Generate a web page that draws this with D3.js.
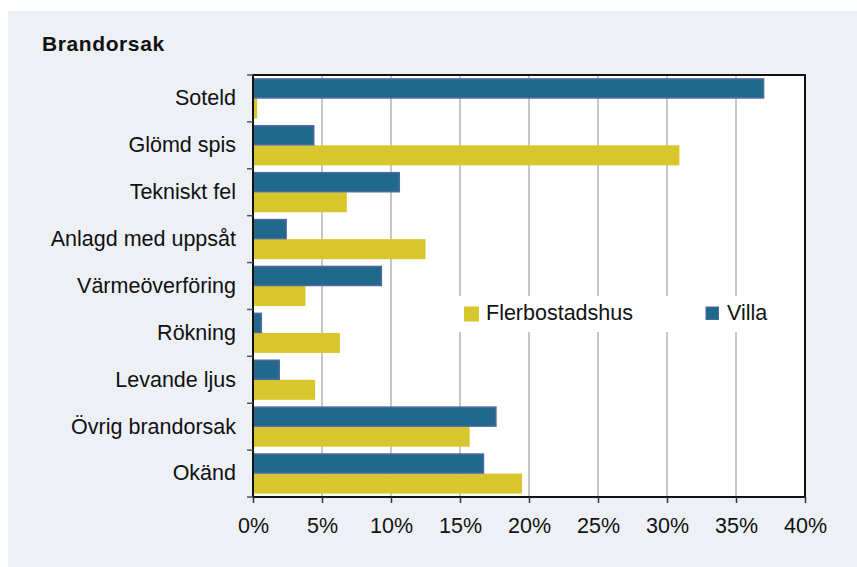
<!DOCTYPE html>
<html>
<head>
<meta charset="utf-8">
<script src="https://cdn.jsdelivr.net/npm/d3@7"></script>
<style>
  body { margin: 0; background: #fff; }
  svg { display: block; font-family: "Liberation Sans", Arial, sans-serif; }
</style>
</head>
<body>
<svg id="chart" width="857" height="567"></svg>
<script>
// data (percent)
const categories = ["Soteld", "Glömd spis", "Tekniskt fel", "Anlagd med uppsåt", "Värmeöverföring",
  "Rökning", "Levande ljus", "Övrig brandorsak", "Okänd"];
const series = ["Villa", "Flerbostadshus"];
const villa = [37.0, 4.4, 10.6, 2.4, 9.3, 0.6, 1.9, 17.6, 16.7];
const flerbostadshus = [0.3, 30.9, 6.8, 12.5, 3.8, 6.3, 4.5, 15.7, 19.5];
const xTicks = [0, 5, 10, 15, 20, 25, 30, 35, 40];

const colors = { "Villa": "#21698a", "Flerbostadshus": "#d8c62f" };
const fontFam = "'Liberation Sans', Arial, sans-serif";

let svg = d3.select("#chart");

// grey panel behind everything
svg.append("rect")
  .attr("x", 8).attr("y", 11)
  .attr("width", 849).attr("height", 556)
  .attr("fill", "#edf0f5");

svg.append("text")
  .attr("x", 42).attr("y", 51)
  .attr("font-size", 21).attr("font-weight", "bold")
  .attr("letter-spacing", 0.6)
  .attr("fill", "#111")
  .text("Brandorsak");

// plot area edges
const pLeft = 253, pRight = 805, pTop = 75, pBottom = 497;

let x = d3.scaleLinear().domain([0, 40]).range([pLeft, pRight]);
let y0 = d3.scaleBand().domain(categories).range([pTop, pBottom]).padding(0);
let y1 = d3.scaleBand().domain(series).range([0, y0.bandwidth()]).paddingInner(0).paddingOuter(0.17);

svg.append("rect")
  .attr("x", pLeft).attr("y", pTop)
  .attr("width", pRight - pLeft).attr("height", pBottom - pTop)
  .attr("fill", "#fff");

// gridlines
svg.append("g")
  .selectAll("line")
  .data(xTicks.slice(1, -1))
  .enter()
  .append("line")
  .attr("x1", (d) => x(d)).attr("x2", (d) => x(d))
  .attr("y1", pTop).attr("y2", pBottom)
  .attr("stroke", "#b3b3b3")
  .attr("stroke-width", 1.5);

// bars
let rows = categories.map((c, i) => ({ cat: c, Villa: villa[i], Flerbostadshus: flerbostadshus[i] }));

let groups = svg.append("g")
  .selectAll("g")
  .data(rows)
  .enter()
  .append("g")
  .attr("transform", (d) => `translate(0,${y0(d.cat)})`);

groups.append("rect")
  .attr("x", x(0))
  .attr("y", y1("Flerbostadshus"))
  .attr("width", (d) => x(d.Flerbostadshus) - x(0))
  .attr("height", y1.bandwidth())
  .attr("fill", colors["Flerbostadshus"]);

groups.append("rect")
  .attr("x", x(0))
  .attr("y", y1("Villa") + 0.5)
  .attr("width", (d) => x(d.Villa) - x(0))
  .attr("height", y1.bandwidth() - 1)
  .attr("fill", colors["Villa"])
  .attr("stroke", "#4f68a0")
  .attr("stroke-width", 1.5);

// legend box (hides the gridlines behind it)
svg.append("rect")
  .attr("x", 450).attr("y", 296)
  .attr("width", pRight - 450).attr("height", 36)
  .attr("fill", "#fff");

let legendItems = [
  { name: "Flerbostadshus", x: 464 },
  { name: "Villa", x: 706 }
];

let legend = svg.append("g")
  .selectAll("g")
  .data(legendItems)
  .enter()
  .append("g")
  .attr("transform", (d) => `translate(${d.x},306)`);

legend.append("rect")
  .attr("width", (d) => d.name == "Villa" ? 12.5 : 15)
  .attr("height", (d) => d.name == "Villa" ? 12.5 : 15)
  .attr("y", (d) => d.name == "Villa" ? 1 : 0.5)
  .attr("fill", (d) => colors[d.name])
  .attr("stroke", (d) => d.name == "Villa" ? "#4f68a0" : "none")
  .attr("stroke-width", 1);

legend.append("text")
  .attr("x", (d) => d.name == "Villa" ? 21 : 22)
  .attr("y", 14)
  .attr("font-size", 21.5)
  .attr("font-family", fontFam)
  .attr("fill", "#111")
  .text((d) => d.name);

// frame
svg.append("rect")
  .attr("x", pLeft).attr("y", pTop)
  .attr("width", pRight - pLeft).attr("height", pBottom - pTop)
  .attr("fill", "none")
  .attr("stroke", "#111")
  .attr("stroke-width", 2);

// bottom axis
let xAxis = d3.axisBottom(x)
  .tickValues(xTicks)
  .tickFormat((d) => d + "%")
  .tickSize(6)
  .tickSizeOuter(0)
  .tickPadding(15);

let gx = svg.append("g")
  .attr("transform", `translate(0,${pBottom})`)
  .call(xAxis);
gx.select(".domain").remove();
gx.selectAll(".tick line").attr("stroke", "#333").attr("stroke-width", 1.5);
gx.selectAll(".tick text")
  .attr("font-size", 21.5)
  .attr("fill", "#111")
  .attr("font-family", fontFam);

// left axis: labels centered on bands, ticks between bands
let yAxis = d3.axisLeft(y0).tickSize(0).tickPadding(17);
let gy = svg.append("g")
  .attr("transform", `translate(${pLeft},0)`)
  .call(yAxis);
gy.select(".domain").remove();
gy.selectAll(".tick text")
  .attr("font-size", 21.5)
  .attr("fill", "#111")
  .attr("font-family", fontFam);

let boundaries = categories.map((c) => y0(c)).concat([pBottom]);
svg.append("g")
  .selectAll("line")
  .data(boundaries)
  .enter()
  .append("line")
  .attr("x1", pLeft - 6).attr("x2", pLeft)
  .attr("y1", (d) => d).attr("y2", (d) => d)
  .attr("stroke", "#555")
  .attr("stroke-width", 1.5);
</script>
</body>
</html>
